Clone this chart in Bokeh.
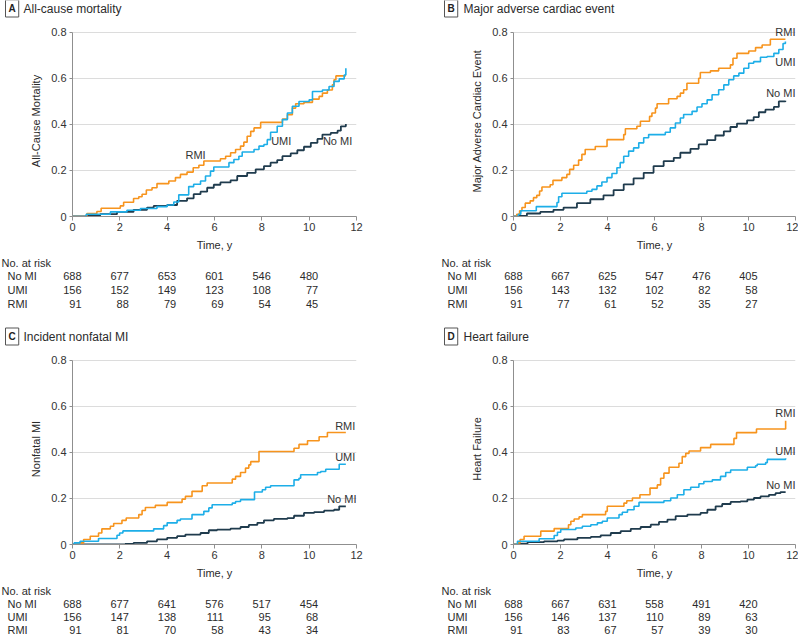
from bokeh.plotting import figure
from bokeh.models import Label, Range1d, FixedTicker
from bokeh.layouts import column, row
from bokeh.embed import file_html
from bokeh.resources import INLINE

FONT = "Liberation Sans"
ORANGE = "#F7941D"
BLUE = "#1DAEE8"
NAVY = "#1F3B4D"
TXT = "#2b2b2b"

years = [0, 2, 4, 6, 8, 10]
groups = ["No MI", "UMI", "RMI"]

# ---------------- Panel A: All-cause mortality ----------------
a_rmi_t = [0, 0.61, 1.03, 1.21, 2.02, 2.16, 2.58, 2.8, 2.94, 3.12, 3.36, 3.57, 4.07, 4.35, 4.56, 4.84, 5.1, 5.34, 5.55, 6.25,
           6.47, 6.68, 6.89, 7.1, 7.24, 7.38, 7.53, 7.67, 7.95, 8.87, 9.08, 9.29, 9.43, 9.78, 10.14, 10.42, 10.56, 10.77, 10.98, 11.05,
           11.13, 11.55]
a_rmi_v = [0, 0.013, 0.022, 0.036, 0.046, 0.062, 0.078, 0.086, 0.097, 0.115, 0.125, 0.143, 0.154, 0.169, 0.183, 0.193, 0.212, 0.223, 0.241, 0.251,
           0.262, 0.277, 0.291, 0.306, 0.323, 0.349, 0.37, 0.385, 0.409, 0.424, 0.442, 0.471, 0.49, 0.496, 0.51, 0.522, 0.536, 0.55, 0.572, 0.594,
           0.611, 0.611]
a_umi_t = [0, 0.58, 1.6, 2.3, 2.87, 3.57, 4.0, 4.28, 4.49, 4.91, 5.12, 5.41, 5.62, 5.83, 5.97, 6.61, 6.82, 7.03, 7.17, 7.67,
           7.88, 8.09, 8.23, 8.37, 8.65, 8.87, 9.08, 9.29, 9.57, 10.0, 10.14, 10.56, 10.84, 11.05, 11.27, 11.48, 11.55]
a_umi_v = [0, 0.01, 0.02, 0.027, 0.035, 0.043, 0.05, 0.063, 0.094, 0.13, 0.14, 0.154, 0.176, 0.197, 0.215, 0.234, 0.248, 0.262, 0.28, 0.291,
           0.306, 0.313, 0.334, 0.366, 0.392, 0.421, 0.45, 0.479, 0.5, 0.507, 0.543, 0.55, 0.565, 0.587, 0.598, 0.615, 0.644]
a_nomi_t = [0, 0.58, 1.17, 1.88, 2.58, 3.15, 3.43, 4.0, 4.42, 4.84, 5.12, 5.41, 5.69, 5.97, 6.25, 6.68, 6.96, 7.38, 7.74, 8.09,
            8.37, 8.65, 8.87, 9.22, 9.5, 9.78, 10.07, 10.35, 10.56, 10.91, 11.2, 11.34, 11.55]
a_nomi_v = [0, 0.004, 0.01, 0.02, 0.029, 0.039, 0.046, 0.05, 0.068, 0.079, 0.097, 0.108, 0.125, 0.138, 0.148, 0.157, 0.176, 0.19, 0.205, 0.219,
            0.234, 0.245, 0.262, 0.274, 0.288, 0.303, 0.32, 0.337, 0.356, 0.363, 0.373, 0.392, 0.402]
a_risk_nomi = [688, 677, 653, 601, 546, 480]
a_risk_umi = [156, 152, 149, 123, 108, 77]
a_risk_rmi = [91, 88, 79, 69, 54, 45]

# ---------------- Panel B: Major adverse cardiac event ----------------
b_rmi_t = [0, 0.14, 0.26, 0.36, 0.5, 0.71, 0.85, 0.99, 1.11, 1.21, 1.56, 1.68, 2.06, 2.27, 2.39, 2.56, 2.77, 2.91, 3.05, 3.48,
           3.98, 4.69, 4.76, 5.25, 5.4, 5.79, 5.89, 6.04, 6.11, 6.6, 6.96, 7.1, 7.24, 7.38, 7.88, 7.95, 8.38, 8.73, 9.23, 9.34,
           9.51, 10.01, 10.3, 10.58, 10.93, 11.57]
b_rmi_v = [0, 0.01, 0.025, 0.039, 0.058, 0.068, 0.082, 0.092, 0.111, 0.128, 0.138, 0.157, 0.169, 0.183, 0.205, 0.223, 0.245, 0.27, 0.291, 0.304,
           0.334, 0.356, 0.381, 0.392, 0.414, 0.435, 0.45, 0.471, 0.49, 0.512, 0.522, 0.536, 0.551, 0.579, 0.601, 0.626, 0.633, 0.644, 0.659, 0.688,
           0.709, 0.719, 0.734, 0.745, 0.77, 0.77]
b_umi_t = [0, 0.21, 0.31, 0.97, 1.85, 1.92, 2.06, 3.12, 3.34, 3.55, 3.76, 3.98, 4.19, 4.4, 4.54, 4.69, 4.9, 5.11, 5.33, 5.54,
           5.75, 6.46, 6.67, 6.89, 7.1, 7.24, 7.6, 7.81, 8.02, 8.24, 8.45, 8.73, 8.95, 9.16, 9.37, 9.59, 9.8, 10.01, 10.22, 10.51,
           10.79, 11.08, 11.29, 11.47, 11.57]
b_umi_v = [0, 0.01, 0.025, 0.043, 0.061, 0.086, 0.101, 0.11, 0.118, 0.133, 0.15, 0.169, 0.187, 0.212, 0.234, 0.262, 0.284, 0.298, 0.32, 0.342,
           0.356, 0.366, 0.385, 0.406, 0.428, 0.443, 0.457, 0.476, 0.49, 0.507, 0.529, 0.551, 0.572, 0.594, 0.611, 0.623, 0.644, 0.666, 0.673, 0.692,
           0.695, 0.709, 0.726, 0.752, 0.76]
b_nomi_t = [0, 0.21, 0.57, 1.14, 1.7, 2.13, 2.7, 3.27, 3.83, 4.26, 4.69, 5.11, 5.54, 5.96, 6.39, 6.82, 7.1, 7.53, 7.88, 8.24,
            8.59, 8.95, 9.23, 9.51, 9.94, 10.22, 10.44, 10.72, 11.08, 11.29, 11.57]
b_nomi_v = [0, 0.003, 0.013, 0.02, 0.029, 0.039, 0.058, 0.075, 0.092, 0.115, 0.14, 0.166, 0.19, 0.219, 0.241, 0.255, 0.277, 0.294, 0.313, 0.332,
            0.352, 0.37, 0.389, 0.404, 0.418, 0.432, 0.453, 0.464, 0.476, 0.5, 0.503]
b_risk_nomi = [688, 667, 625, 547, 476, 405]
b_risk_umi = [156, 143, 132, 102, 82, 58]
b_risk_rmi = [91, 77, 61, 52, 35, 27]

# ---------------- Panel C: Incident nonfatal MI ----------------
c_rmi_t = [0, 0.25, 0.47, 0.75, 1.1, 1.24, 1.6, 1.74, 2.09, 2.27, 2.8, 2.94, 3.08, 3.5, 4.0, 4.63, 4.77, 5.05, 5.48, 5.69,
           6.75, 6.89, 7.1, 7.31, 7.45, 7.53, 7.88, 9.36, 9.57, 9.93, 10.42, 10.77, 11.55]
c_rmi_v = [0, 0.007, 0.022, 0.036, 0.05, 0.068, 0.079, 0.091, 0.105, 0.115, 0.13, 0.148, 0.161, 0.17, 0.183, 0.197, 0.209, 0.231, 0.255, 0.267,
           0.284, 0.296, 0.313, 0.332, 0.346, 0.36, 0.404, 0.418, 0.435, 0.451, 0.468, 0.487, 0.487]
c_umi_t = [0, 0.07, 0.32, 1.1, 1.88, 1.99, 2.13, 3.43, 3.85, 4.0, 4.42, 4.56, 5.05, 5.55, 5.76, 5.9, 6.75, 6.89, 7.1, 7.69,
           8.02, 8.16, 8.37, 9.36, 9.57, 9.64, 10.35, 10.49, 10.7, 11.27, 11.55]
c_umi_v = [0, 0.007, 0.014, 0.026, 0.04, 0.05, 0.059, 0.068, 0.082, 0.094, 0.105, 0.111, 0.13, 0.144, 0.159, 0.173, 0.18, 0.187, 0.195, 0.228,
           0.238, 0.249, 0.255, 0.281, 0.288, 0.303, 0.313, 0.317, 0.327, 0.349, 0.349]
c_nomi_t = [0, 2.23, 2.58, 3.15, 3.57, 4.0, 4.42, 4.77, 5.41, 5.76, 6.11, 6.68, 7.1, 7.45, 7.81, 8.09, 8.51, 9.08, 9.36, 9.78,
            10.21, 10.63, 11.05, 11.27, 11.55]
c_nomi_v = [0, 0.003, 0.007, 0.014, 0.022, 0.029, 0.036, 0.043, 0.05, 0.062, 0.065, 0.069, 0.076, 0.085, 0.094, 0.105, 0.111, 0.115, 0.125, 0.137,
            0.141, 0.147, 0.151, 0.166, 0.166]
c_risk_nomi = [688, 677, 641, 576, 517, 454]
c_risk_umi = [156, 147, 138, 111, 95, 68]
c_risk_rmi = [91, 81, 70, 58, 43, 34]

# ---------------- Panel D: Heart failure ----------------
d_rmi_t = [0, 0.17, 0.28, 0.45, 1.16, 1.73, 2.34, 2.44, 2.58, 2.79, 2.93, 3.92, 3.99, 4.7, 4.82, 5.06, 5.38, 5.81, 6.12, 6.26,
           6.4, 6.62, 7.04, 7.18, 7.33, 7.47, 7.96, 8.39, 9.38, 9.49, 10.34, 11.58]
d_rmi_v = [0, 0.007, 0.022, 0.036, 0.058, 0.069, 0.086, 0.101, 0.111, 0.12, 0.13, 0.144, 0.166, 0.18, 0.19, 0.202, 0.216, 0.245, 0.259, 0.288,
           0.31, 0.336, 0.353, 0.382, 0.396, 0.406, 0.421, 0.435, 0.461, 0.486, 0.502, 0.538]
d_umi_t = [0, 0.17, 1.09, 1.73, 1.87, 2.01, 2.65, 2.93, 3.29, 3.57, 3.78, 3.99, 4.49, 4.63, 4.85, 5.13, 5.34, 6.4, 6.69, 6.97,
           7.25, 7.54, 7.89, 8.1, 8.46, 8.81, 9.03, 9.24, 9.95, 10.3, 10.37, 10.73, 10.8, 11.58]
d_umi_v = [0, 0.014, 0.025, 0.039, 0.053, 0.065, 0.072, 0.079, 0.086, 0.094, 0.101, 0.115, 0.13, 0.14, 0.151, 0.166, 0.183, 0.19, 0.202, 0.216,
           0.238, 0.249, 0.264, 0.274, 0.281, 0.296, 0.313, 0.324, 0.336, 0.342, 0.349, 0.356, 0.37, 0.375]
d_nomi_t = [0, 0.17, 0.6, 1.3, 1.87, 2.15, 2.72, 3.29, 3.71, 4.14, 4.56, 4.99, 5.41, 5.84, 6.19, 6.55, 6.9, 7.4, 7.96, 8.25,
            8.6, 8.88, 9.24, 9.66, 9.95, 10.23, 10.51, 10.87, 11.15, 11.36, 11.58]
d_nomi_v = [0, 0.004, 0.01, 0.014, 0.017, 0.022, 0.029, 0.033, 0.04, 0.05, 0.058, 0.068, 0.076, 0.086, 0.098, 0.108, 0.123, 0.13, 0.137, 0.151,
            0.166, 0.176, 0.185, 0.187, 0.195, 0.202, 0.209, 0.216, 0.223, 0.228, 0.228]
d_risk_nomi = [688, 667, 631, 558, 491, 420]
d_risk_umi = [156, 146, 137, 110, 89, 63]
d_risk_rmi = [91, 83, 67, 57, 39, 30]

# ---------------- layout geometry (pixels) ----------------
Y_TOP = 0.83          # head-room above the 0.8 grid line for curve labels
FRAME_H = 192         # pixel height of the frame for 0..Y_TOP
PLOT_H = 228
LEFT = dict(w=400, fl=72, fw=284, box_x=5, title_x=23, nar_x=1, grp_x=7)
RIGHT = dict(w=398, fl=113, fw=282, box_x=44, title_x=63, nar_x=41, grp_x=47)
TOP = dict(head_h=25, title_y=8, table_h=62, rows=[9, 22, 36, 50])
BOT = dict(head_h=38, title_y=21, table_h=57, rows=[9, 22, 35, 48])


def dx(g, px):
    return (px - g["fl"]) * 12.0 / g["fw"]


def no_align(p):
    try:
        p.frame_align = False
    except AttributeError:
        pass


def lab(p, x, y, text, size="11px", align="left", color=TXT, **kw):
    p.add_layout(Label(x=x, y=y, text=text, text_font=FONT, text_font_size=size,
                       text_color=color, text_align=align, text_baseline="middle", **kw))


def blank_fig(w, h, x_range):
    p = figure(width=w, height=h, x_range=x_range, y_range=Range1d(h, 0),
               output_backend="svg", toolbar_location=None, title=None,
               x_axis_location=None, y_axis_location=None,
               min_border_left=0, min_border_right=0, min_border_top=0, min_border_bottom=0)
    p.outline_line_color = None
    p.grid.visible = False
    p.border_fill_color = "white"
    p.background_fill_color = "white"
    no_align(p)
    return p


def make_panel(g, v, letter, title, ylabel, curves, risks, curve_labels):
    # ---- heading ----
    head = blank_fig(g["w"], v["head_h"], Range1d(0, g["w"]))
    head.add_layout(Label(x=g["box_x"], y=v["title_y"], text=letter, text_font=FONT, text_font_size="10px",
                          text_font_style="bold", text_color="#222222", text_align="left", text_baseline="middle",
                          border_line_color="#555555", border_line_width=1, background_fill_color="white",
                          padding=3))
    lab(head, g["title_x"], v["title_y"], title, size="12px")

    # ---- plot ----
    p = figure(width=g["w"], height=PLOT_H, x_range=Range1d(0, 12), y_range=Range1d(0, Y_TOP),
               output_backend="svg", toolbar_location=None, title=None,
               min_border_left=g["fl"], min_border_right=g["w"] - g["fl"] - g["fw"],
               min_border_top=0, min_border_bottom=PLOT_H - FRAME_H)
    no_align(p)
    p.outline_line_color = None
    p.background_fill_color = "white"
    p.border_fill_color = "white"
    p.xgrid.grid_line_color = None
    p.ygrid.grid_line_color = "#dcdcdc"
    p.ygrid.grid_line_width = 1

    p.xaxis.ticker = FixedTicker(ticks=[0, 2, 4, 6, 8, 10, 12])
    p.yaxis.ticker = FixedTicker(ticks=[0, 0.2, 0.4, 0.6, 0.8])
    p.ygrid.ticker = FixedTicker(ticks=[0.2, 0.4, 0.6, 0.8])
    p.yaxis.bounds = (0, 0.8)
    p.yaxis.major_label_overrides = {0: "0", 0.2: "0.2", 0.4: "0.4", 0.6: "0.6", 0.8: "0.8"}
    for ax in (p.xaxis, p.yaxis):
        ax.axis_line_color = "#8f8f8f"
        ax.major_tick_line_color = "#8f8f8f"
        ax.minor_tick_line_color = None
        ax.major_tick_in = 0
        ax.major_label_text_font = FONT
        ax.major_label_text_font_size = "11px"
        ax.major_label_text_color = "#333333"
        ax.axis_label_text_font = FONT
        ax.axis_label_text_font_size = "11px"
        ax.axis_label_text_font_style = "normal"
        ax.axis_label_text_color = TXT
    p.xaxis.major_tick_out = 4
    p.xaxis.major_label_standoff = 2
    p.xaxis.axis_label = "Time, y"
    p.xaxis.axis_label_standoff = 5
    p.yaxis.major_tick_out = 3
    p.yaxis.major_label_standoff = 3
    p.yaxis.axis_label = ylabel
    p.yaxis.axis_label_standoff = 6

    for (t, vals, c, w) in curves:
        p.step(t, vals, mode="after", line_color=c, line_width=w)

    for (text, x, y, align) in curve_labels:
        lab(p, x, y, text, align=align, color="#333333")

    # ---- number at risk table (same horizontal data scale as the plot) ----
    tab = blank_fig(g["w"], v["table_h"], Range1d(dx(g, 0), dx(g, g["w"])))
    lab(tab, dx(g, g["nar_x"]), v["rows"][0], "No. at risk")
    for gi, (name, counts) in enumerate(zip(groups, risks)):
        yy = v["rows"][gi + 1]
        lab(tab, dx(g, g["grp_x"]), yy, name)
        for xi, cnt in zip(years, counts):
            lab(tab, xi, yy, str(cnt), align="right", x_offset=9)
    return column(head, p, tab, spacing=0)


pA = make_panel(LEFT, TOP, "A", "All-cause mortality", "All-Cause Mortality",
                [(a_nomi_t, a_nomi_v, NAVY, 1.8), (a_rmi_t, a_rmi_v, ORANGE, 1.6), (a_umi_t, a_umi_v, BLUE, 1.6)],
                [a_risk_nomi, a_risk_umi, a_risk_rmi],
                [("RMI", 5.2, 0.267, "center"), ("UMI", 8.82, 0.327, "center"), ("No MI", 11.2, 0.327, "center")])
pB = make_panel(RIGHT, TOP, "B", "Major adverse cardiac event", "Major Adverse Cardiac Event",
                [(b_nomi_t, b_nomi_v, NAVY, 1.8), (b_rmi_t, b_rmi_v, ORANGE, 1.6), (b_umi_t, b_umi_v, BLUE, 1.6)],
                [b_risk_nomi, b_risk_umi, b_risk_rmi],
                [("RMI", 12.0, 0.8, "right"), ("UMI", 12.0, 0.673, "right"), ("No MI", 12.0, 0.536, "right")])
pC = make_panel(LEFT, BOT, "C", "Incident nonfatal MI", "Nonfatal MI",
                [(c_nomi_t, c_nomi_v, NAVY, 1.8), (c_rmi_t, c_rmi_v, ORANGE, 1.6), (c_umi_t, c_umi_v, BLUE, 1.6)],
                [c_risk_nomi, c_risk_umi, c_risk_rmi],
                [("RMI", 11.95, 0.515, "right"), ("UMI", 11.95, 0.379, "right"), ("No MI", 12.0, 0.197, "right")])
pD = make_panel(RIGHT, BOT, "D", "Heart failure", "Heart Failure",
                [(d_nomi_t, d_nomi_v, NAVY, 1.8), (d_rmi_t, d_rmi_v, ORANGE, 1.6), (d_umi_t, d_umi_v, BLUE, 1.6)],
                [d_risk_nomi, d_risk_umi, d_risk_rmi],
                [("RMI", 12.0, 0.572, "right"), ("UMI", 12.0, 0.408, "right"), ("No MI", 12.0, 0.259, "right")])

layout = column(row(pA, pB, spacing=0), row(pC, pD, spacing=0), spacing=0)
open("out.html", "w").write(file_html(layout, INLINE))
